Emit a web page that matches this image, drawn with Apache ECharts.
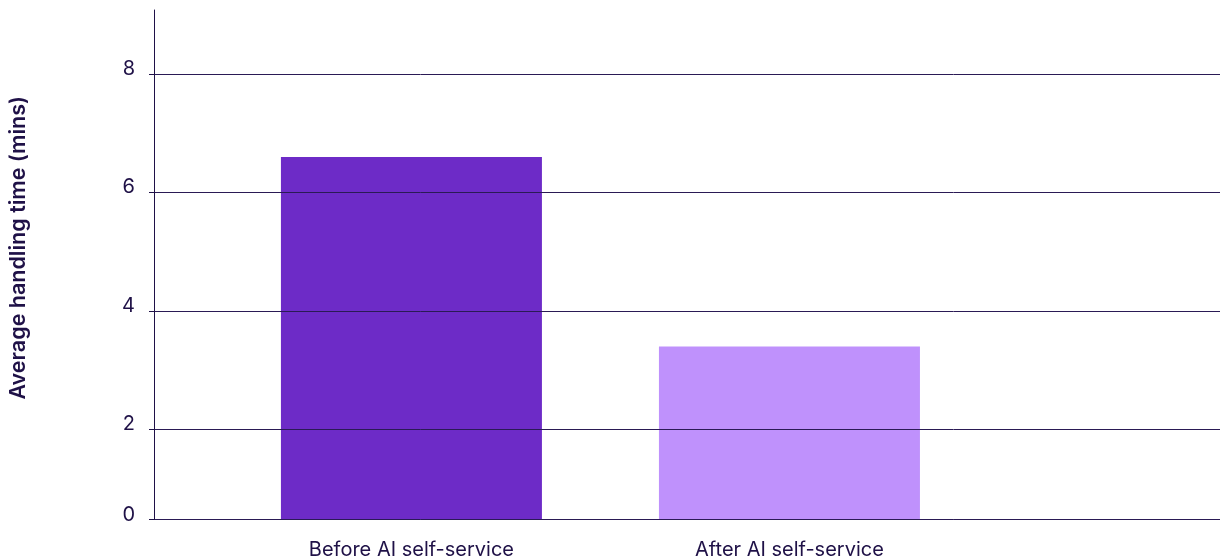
<!DOCTYPE html>
<html>
<head>
<meta charset="utf-8">
<script src="https://cdn.jsdelivr.net/npm/echarts@6/dist/echarts.min.js"></script>
<style>html,body{margin:0;padding:0;background:#fff}#c{width:1220px;height:560px}</style>
</head>
<body>
<div id="c"></div>
<script>
const categories = ['Before AI self-service', 'After AI self-service'];
const handlingTime = [6.6, 3.4];
const barColors = ['#6d2bc7', '#bf91fc'];
const yTickValues = [0.48, 2, 4, 6, 8];
const yTickLabels = ['0', '2', '4', '6', '8'];
const yAxisTitle = 'Average handling time (mins)';

const textColor = '#1f1147';
const chart = echarts.init(document.getElementById('c'), null, {renderer: 'canvas'});
chart.setOption({
  animation: false,
  backgroundColor: '#ffffff',
  grid: {left: 154, right: 0, top: 10, bottom: 40.5, containLabel: false},
  xAxis: {
    type: 'value',
    min: -0.681,
    max: 2.139,
    axisLine: {show: true, onZero: false, lineStyle: {color: '#5a4a7a', width: 1}},
    axisTick: {show: false},
    splitLine: {show: false},
    axisLabel: {
      customValues: categories.map((c, i) => i),
      formatter: v => categories[Math.round(v)] || '',
      color: textColor, fontFamily: 'Inter', fontSize: 20, margin: 20
    }
  },
  yAxis: {
    type: 'value',
    min: 0.48,
    max: 9.08,
    z: 5,
    name: yAxisTitle,
    nameLocation: 'middle',
    nameRotate: 90,
    nameGap: 124,
    nameTextStyle: {color: textColor, fontFamily: 'Inter', fontSize: 21.5, fontWeight: 600, padding: [0, 0, 0, 34]},
    axisLine: {show: true, onZero: false, lineStyle: {color: '#1f1147', width: 1}},
    axisTick: {show: true, customValues: yTickValues, length: 5, lineStyle: {color: '#1f1147'}},
    axisLabel: {
      customValues: yTickValues,
      formatter: v => yTickLabels[yTickValues.indexOf(v)] ?? '',
      color: textColor, fontFamily: 'Inter', fontSize: 20, margin: 19,
      verticalAlign: 'bottom', lineHeight: 10
    },
    splitLine: {show: true, lineStyle: {color: '#2a1a55', width: 1}}
  },
  series: [{
    type: 'bar',
    barWidth: 261,
    data: handlingTime.map((v, i) => ({value: [i, v], itemStyle: {color: barColors[i]}}))
  }]
});
</script>
</body>
</html>
